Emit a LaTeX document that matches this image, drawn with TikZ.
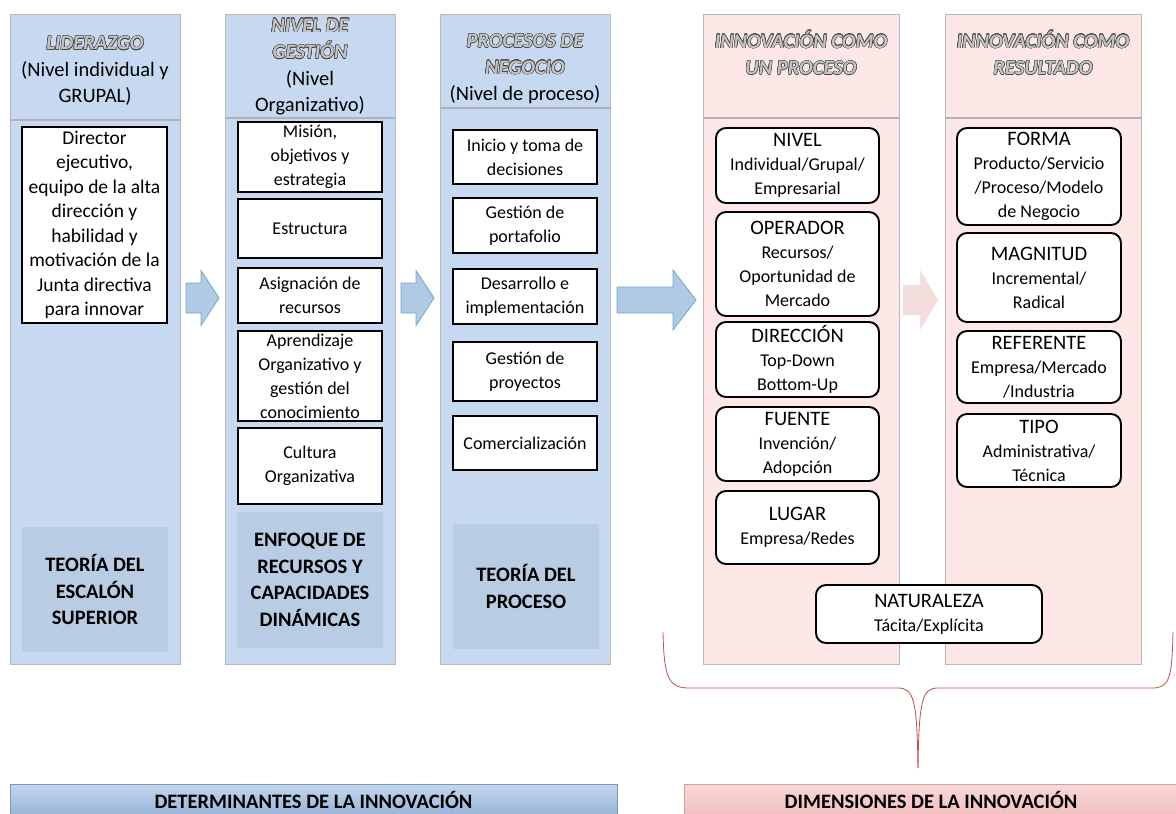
\documentclass[tikz,border=0pt]{standalone}
\usepackage{fontspec}
\usepackage{contour}
\contourlength{0.45pt}
\setmainfont{Carlito}
\definecolor{colblue}{HTML}{C6D9F1}
\definecolor{theoryblue}{HTML}{B8CCE4}
\definecolor{colpink}{HTML}{FDE7E7}
\definecolor{hdrfill}{HTML}{C4C4C4}
\definecolor{hdrline}{HTML}{4A4A4A}
\definecolor{arrblue}{HTML}{B0CAE6}
\definecolor{arrblueline}{HTML}{6FA8C8}
\definecolor{arrpink}{HTML}{F4DEDD}
\definecolor{barblue}{HTML}{95B3D7}
\definecolor{barbluetop}{HTML}{C4D7EE}
\definecolor{barpink}{HTML}{F2BEBE}
\definecolor{barpinktop}{HTML}{F9D8D8}
\definecolor{bracered}{HTML}{C0504D}
\newcommand\hdr[1]{{\fontsize{20.5}{26.5}\selectfont\bfseries\itshape\contour{hdrline}{\textcolor{hdrfill}{#1}}}}
\newcommand\ttl{\fontsize{20.5}{24}\selectfont}
\newcommand\placebox[7]{\node[#6, minimum width={#4-#2}, minimum height={#5-#3}, text width={#4-#2-6}] (#1) at ({(#2+#4)/2},{(#3+#5)/2}) {#7};}
\begin{document}
\begin{tikzpicture}[x=1pt,y=-1pt,
  colbase/.style={draw=black!28, line width=1pt, inner sep=0pt},
  bluecol/.style={colbase, fill=colblue},
  pinkcol/.style={colbase, fill=colpink},
  hdrsep/.style={draw=black!30, line width=1.6pt},
  hdrtext/.style={align=flush center, font=\fontsize{20.5}{26.5}\selectfont, inner sep=0pt},
  sqbox/.style={draw=black, line width=1.9pt, fill=white, align=flush center, inner sep=0pt, font=\fontsize{18}{24}\selectfont},
  bigsq/.style={sqbox, font=\fontsize{19.5}{24.5}\selectfont},
  rbox/.style={sqbox, rounded corners=10pt},
  theory/.style={fill=theoryblue, align=flush center, inner sep=0pt, font=\fontsize{20.5}{26.5}\selectfont\bfseries},
  bararrow/.style={fill=arrblue, draw=arrblueline, line width=0.8pt},
  pinkarrow/.style={fill=arrpink, draw=none},
  brace/.style={draw=bracered, line width=0.8pt},
  bluebar/.style={top color=barbluetop, bottom color=barblue, draw=barblue!85!black, line width=0.6pt, inner sep=0pt, align=flush center, font=\fontsize{20.5}{22}\selectfont\bfseries},
  pinkbar/.style={top color=barpinktop, bottom color=barpink, draw=barpink!85!black, line width=0.6pt, inner sep=0pt, align=flush center, font=\fontsize{20.5}{22}\selectfont\bfseries}
]
\useasboundingbox (0,0) rectangle (1176,814);
\fill[white] (0,0) rectangle (1176,814);

% columns
\placebox{c1}{10}{14}{180}{664}{bluecol}{}
\placebox{c2}{225}{14}{395}{664}{bluecol}{}
\placebox{c3}{440}{14}{610}{664}{bluecol}{}
\placebox{c4}{703}{14}{899}{664}{pinkcol}{}
\placebox{c5}{945}{14}{1141}{664}{pinkcol}{}

% header separators
\draw[hdrsep] (c1.west |- 0,120) -- (c1.east |- 0,120);
\draw[hdrsep] (c2.west |- 0,118) -- (c2.east |- 0,118);
\draw[hdrsep] (c3.west |- 0,108) -- (c3.east |- 0,108);
\draw[hdrsep] (c4.west |- 0,118) -- (c4.east |- 0,118);
\draw[hdrsep] (c5.west |- 0,118) -- (c5.east |- 0,118);

% headers
\node[hdrtext] (h1) at (95,71) {\hdr{LIDERAZGO}\\(Nivel individual y\\GRUPAL)};
\node[hdrtext] (h2) at (310,67) {\hdr{NIVEL DE}\\\hdr{GESTIÓN}\\(Nivel\\Organizativo)};
\node[hdrtext] (h3) at (525,69) {\hdr{PROCESOS DE}\\\hdr{NEGOCIO}\\(Nivel de proceso)};
\node[hdrtext] (h4) at (801,53) {\hdr{INNOVACIÓN COMO}\\\hdr{UN PROCESO}};
\node[hdrtext] (h5) at (1043,53) {\hdr{INNOVACIÓN COMO}\\\hdr{RESULTADO}};

% column 1
\placebox{b11}{22}{127}{167}{323}{bigsq}{Director\\ejecutivo,\\equipo de la alta\\dirección y\\habilidad y\\motivación de la\\Junta directiva\\para innovar}
\placebox{t1}{22}{527}{168}{652}{theory}{TEORÍA DEL\\ESCALÓN\\SUPERIOR}

% column 2
\placebox{b21}{238}{122}{382}{192}{sqbox}{Misión,\\objetivos y\\estrategia}
\placebox{b22}{238}{199}{382}{258}{sqbox}{Estructura}
\placebox{b23}{238}{268}{382}{323}{sqbox}{Asignación de\\recursos}
\placebox{b24}{238}{331}{382}{421}{sqbox}{Aprendizaje\\Organizativo y\\gestión del\\conocimiento}
\placebox{b25}{238}{428}{382}{504}{sqbox}{Cultura\\Organizativa}
\placebox{t2}{237}{512}{383}{648}{theory}{ENFOQUE DE\\RECURSOS Y\\CAPACIDADES\\DINÁMICAS}

% column 3
\placebox{b31}{453}{130}{597}{184}{sqbox}{Inicio y toma de\\decisiones}
\placebox{b32}{453}{198}{597}{253}{sqbox}{Gestión de\\portafolio}
\placebox{b33}{453}{269}{597}{324}{sqbox}{Desarrollo e\\implementación}
\placebox{b34}{453}{342}{597}{401}{sqbox}{Gestión de\\proyectos}
\placebox{b35}{453}{416}{597}{470}{sqbox}{Comercialización}
\placebox{t3}{453}{524}{599}{649}{theory}{TEORÍA DEL\\PROCESO}

% column 4
\placebox{b41}{716}{128}{879}{203}{rbox}{{\ttl NIVEL}\\Individual/Grupal/\\Empresarial}
\placebox{b42}{716}{212}{879}{316}{rbox}{{\ttl OPERADOR}\\Recursos/\\Oportunidad de\\Mercado}
\placebox{b43}{716}{322}{879}{397}{rbox}{{\ttl DIRECCIÓN}\\Top-Down\\Bottom-Up}
\placebox{b44}{716}{407}{879}{481}{rbox}{{\ttl FUENTE}\\Invención/\\Adopción}
\placebox{b45}{716}{491}{879}{564}{rbox}{{\ttl LUGAR}\\Empresa/Redes}

% column 5
\placebox{b51}{957}{128}{1121}{225}{rbox}{{\ttl FORMA}\\Producto/Servicio\\/Proceso/Modelo\\de Negocio}
\placebox{b52}{957}{233}{1121}{322}{rbox}{{\ttl MAGNITUD}\\Incremental/\\Radical}
\placebox{b53}{957}{331}{1121}{403}{rbox}{{\ttl REFERENTE}\\Empresa/Mercado\\/Industria}
\placebox{b54}{957}{414}{1121}{487}{rbox}{{\ttl TIPO}\\Administrativa/\\Técnica}

% naturaleza
\placebox{n1}{816}{585}{1042}{643}{rbox}{{\ttl NATURALEZA}\\Tácita/Explícita}

% block arrows
\draw[bararrow] (186,283) -- (201,283) -- (201,270.5) -- (219,298) -- (201,325.5) -- (201,313) -- (186,313) -- cycle;
\draw[bararrow] (401,283) -- (416,283) -- (416,270.5) -- (434,298) -- (416,325.5) -- (416,313) -- (401,313) -- cycle;
\draw[bararrow] (617,287) -- (673,287) -- (673,270) -- (696,300) -- (673,330) -- (673,313) -- (617,313) -- cycle;
\fill[pinkarrow] (903,285) -- (920,285) -- (920,270) -- (938,300) -- (920,330) -- (920,315) -- (903,315) -- cycle;

% brace
\draw[brace] (663,632) .. controls (664,680) and (669,688) .. (690,688) -- (898,688)
  .. controls (914,688) and (917,700) .. (918,768);
\draw[brace] (918,768) .. controls (919,700) and (922,688) .. (938,688) -- (1152,688)
  .. controls (1169,688) and (1172,680) .. (1173,632);

% bottom bars
\placebox{bar1}{10}{784}{617}{816}{bluebar}{DETERMINANTES DE LA INNOVACIÓN}
\placebox{bar2}{684}{784}{1178}{816}{pinkbar}{DIMENSIONES DE LA INNOVACIÓN}
\end{tikzpicture}
\end{document}
